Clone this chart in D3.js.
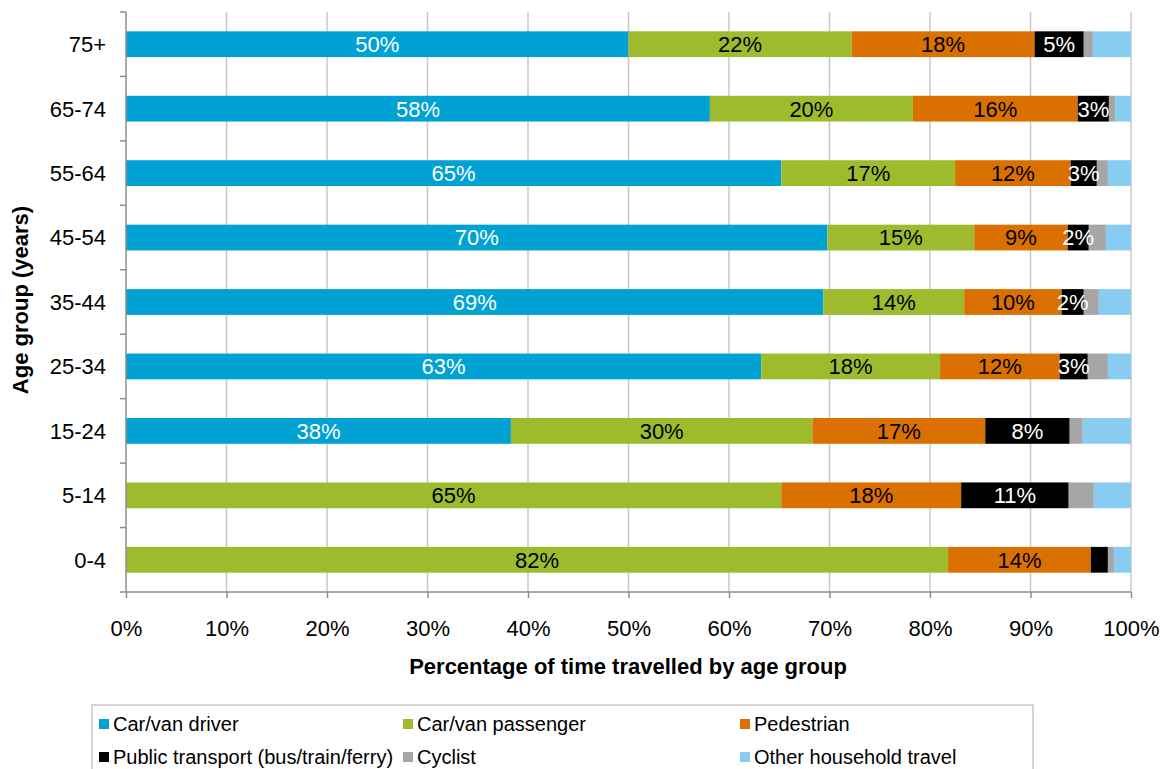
<!DOCTYPE html>
<html>
<head>
<meta charset="utf-8">
<script src="https://cdn.jsdelivr.net/npm/d3@7"></script>
<style>
  body { margin: 0; background: #fff; }
  svg { display: block; font-family: "Liberation Sans", Arial, sans-serif; }
</style>
</head>
<body>
<svg id="chart" width="1167" height="769"></svg>
<script>
// Age groups, top to bottom
const ageGroups = ["75+", "65-74", "55-64", "45-54", "35-44", "25-34", "15-24", "5-14", "0-4"];

// Share of travel time (%) per mode, one value per age group
const carDriver     = [50.0, 58.1, 65.2, 69.8, 69.4, 63.2, 38.3, 0.0, 0.0];
const carPassenger  = [22.2, 20.2, 17.3, 14.6, 14.0, 17.8, 30.0, 65.2, 81.8];
const pedestrian    = [18.2, 16.4, 11.5, 9.3, 9.7, 11.9, 17.2, 17.9, 14.2];
const publicTrans   = [4.9, 3.1, 2.6, 2.1, 2.2, 2.8, 8.4, 10.7, 1.7];
const cyclist       = [0.9, 0.6, 1.1, 1.7, 1.5, 2.0, 1.3, 2.5, 0.6];
const otherTravel   = [3.8, 1.6, 2.3, 2.5, 3.2, 2.3, 4.8, 3.7, 1.7];

const seriesNames = ["Car/van driver", "Car/van passenger", "Pedestrian",
  "Public transport (bus/train/ferry)", "Cyclist", "Other household travel"];
const seriesValues = [carDriver, carPassenger, pedestrian, publicTrans, cyclist, otherTravel];
const seriesColors = ["#00A2D4", "#9DBB2D", "#D97000", "#000000", "#A6A6A6", "#88CCF2"];
const labelColors  = ["#ffffff", "#000000", "#000000", "#ffffff", null, null];

const xTicks = [0, 10, 20, 30, 40, 50, 60, 70, 80, 90, 100];

const svg = d3.select("#chart");
const plotLeft = 126, plotRight = 1131, plotTop = 12, plotBottom = 592;

const x = d3.scaleLinear().domain([0, 100]).range([plotLeft, plotRight]);
const y = d3.scaleBand().domain(ageGroups).range([plotTop, plotBottom]).paddingInner(0.6).paddingOuter(0.3);

// Vertical gridlines
svg.append("g").selectAll("line").data(xTicks.slice(1)).join("line")
  .attr("x1", d => x(d)).attr("x2", d => x(d))
  .attr("y1", plotTop).attr("y2", plotBottom)
  .attr("stroke", "#c8c8c8").attr("stroke-width", 1.5);

// Build stacked rows
const rows = ageGroups.map((g, i) => {
  const r = { group: g };
  seriesNames.forEach((s, k) => r[s] = seriesValues[k][i]);
  return r;
});
const stacked = d3.stack().keys(seriesNames)(rows);

const layers = svg.append("g").selectAll("g").data(stacked).join("g")
  .attr("fill", (d, k) => seriesColors[k]);

layers.selectAll("rect").data(d => d).join("rect")
  .attr("x", d => x(d[0]))
  .attr("width", d => x(d[1]) - x(d[0]))
  .attr("y", d => y(d.data.group))
  .attr("height", y.bandwidth());

// Value labels
stacked.forEach((layer, k) => {
  if (!labelColors[k]) return;
  svg.append("g").selectAll("text").data(layer.filter(d => d[1] - d[0] >= 2)).join("text")
    .attr("x", d => x((d[0] + d[1]) / 2))
    .attr("y", d => y(d.data.group) + y.bandwidth() / 2)
    .attr("dy", "0.36em")
    .attr("text-anchor", "middle")
    .attr("font-size", 22)
    .attr("fill", labelColors[k])
    .text(d => Math.round(d[1] - d[0]) + "%");
});

// Axes
const axisColor = "#8c8c8c";
const xAxis = svg.append("g").attr("transform", `translate(0,${plotBottom})`)
  .call(d3.axisBottom(x).tickValues(xTicks).tickFormat(d => d + "%").tickSize(6).tickPadding(22));
xAxis.select(".domain").attr("stroke", axisColor).attr("stroke-width", 1.5).attr("d", `M${plotLeft - 6},0H${plotRight}`);
xAxis.selectAll(".tick line").attr("stroke", axisColor).attr("stroke-width", 1.5);
xAxis.selectAll(".tick text").attr("font-size", 22).attr("fill", "#000")
  .attr("font-family", "Liberation Sans, Arial, sans-serif");

// Y axis: category labels with ticks at band boundaries
const yAxisG = svg.append("g");
yAxisG.append("line").attr("x1", plotLeft).attr("x2", plotLeft).attr("y1", plotTop).attr("y2", plotBottom)
  .attr("stroke", axisColor).attr("stroke-width", 1.5);
const step = y.step();
d3.range(ageGroups.length).forEach(i => {
  const yy = plotTop + i * step;
  yAxisG.append("line").attr("x1", plotLeft - 6).attr("x2", plotLeft).attr("y1", yy).attr("y2", yy)
    .attr("stroke", axisColor).attr("stroke-width", 1.5);
});
yAxisG.selectAll("text").data(ageGroups).join("text")
  .attr("x", plotLeft - 20)
  .attr("y", d => y(d) + y.bandwidth() / 2)
  .attr("dy", "0.36em")
  .attr("text-anchor", "end")
  .attr("font-size", 22)
  .text(d => d);

// Axis titles
svg.append("text")
  .attr("x", 628).attr("y", 674)
  .attr("text-anchor", "middle")
  .attr("font-size", 22).attr("font-weight", "bold")
  .text("Percentage of time travelled by age group");

svg.append("text")
  .attr("transform", `translate(28,300) rotate(-90)`)
  .attr("text-anchor", "middle")
  .attr("font-size", 22).attr("font-weight", "bold")
  .text("Age group (years)");

// Legend
svg.append("rect").attr("x", 92).attr("y", 705).attr("width", 941).attr("height", 80)
  .attr("fill", "none").attr("stroke", "#c8c8c8").attr("stroke-width", 1.5);
const legendCols = [99, 403, 740];
const legendRows = [724, 757];
seriesNames.forEach((s, k) => {
  const cx = legendCols[k % 3], cy = legendRows[Math.floor(k / 3)];
  svg.append("rect").attr("x", cx).attr("y", cy - 5).attr("width", 10).attr("height", 10)
    .attr("fill", seriesColors[k]);
  svg.append("text").attr("x", cx + 14).attr("y", cy).attr("dy", "0.36em")
    .attr("font-size", 20).text(s);
});
</script>
</body>
</html>
